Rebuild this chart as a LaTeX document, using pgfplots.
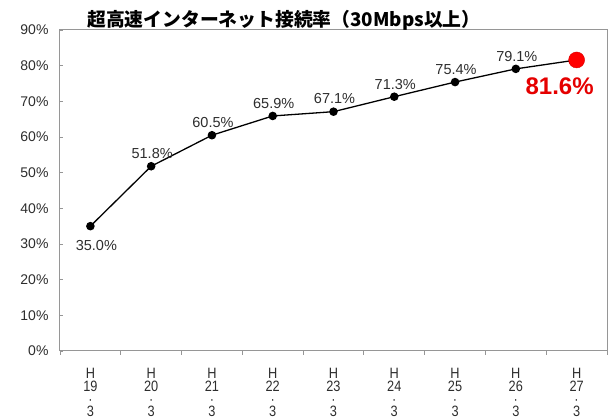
\documentclass[border=0pt]{standalone}
\usepackage{fontspec}
\setmainfont{Liberation Sans}
\newfontfamily\narrow{Liberation Sans}[FakeStretch=0.85]
\newfontfamily\cjk{Noto Sans CJK JP}
\usepackage{pgfplots}
\pgfplotsset{compat=1.18}
\definecolor{txt}{RGB}{45,45,45}
\definecolor{frame}{RGB}{150,150,150}
\begin{document}
\begin{tikzpicture}[x=1pt,y=1pt]
\begin{axis}[
  at={(0,0)}, anchor=south west,
  scale only axis, width=547pt, height=321pt,
  xmin=-0.5, xmax=8.5, ymin=0, ymax=90,
  ytick={0,10,...,90},
  yticklabel={\pgfmathprintnumber{\tick}\%},
  /pgf/number format/assume math mode=true,
  y tick label style={font=\fontsize{14}{16}\selectfont, text=txt, xshift=-8pt},
  ytick pos=left, xtick pos=bottom,
  tick align=inside,
  ytick style={draw=frame, line width=0.8pt},
  major tick length=3pt,
  xtick={0,...,8},
  xticklabels={{H\\19\\·\\3},{H\\20\\·\\3},{H\\21\\·\\3},{H\\22\\·\\3},{H\\23\\·\\3},{H\\24\\·\\3},{H\\25\\·\\3},{H\\26\\·\\3},{H\\27\\·\\3}},
  xticklabel style={align=center, font=\narrow\fontsize{15}{12.8}\selectfont, text=txt, anchor=north, yshift=-17pt, inner sep=0pt},
  major x tick style={draw=none},
  minor xtick={-0.5,0.5,...,8.5},
  minor x tick style={draw=frame, line width=0.8pt, yshift=-4pt},
  minor tick length=4pt,
  axis line style={draw=frame, line width=1pt},
  clip=false,
]
\addplot[black, line width=1.3pt, mark=*, mark size=3.6pt] coordinates {
  (0,35.0) (1,51.8) (2,60.5) (3,65.9) (4,67.1) (5,71.3) (6,75.4) (7,79.1) (8,81.6)
};
\addplot[draw=none, mark=none, nodes near coords={\pgfmathprintnumber[fixed,fixed zerofill,precision=1]{\pgfplotspointmeta}\%},
  point meta=y,
  nodes near coords style={font=\fontsize{14.5}{16}\selectfont, text=txt, anchor=south, yshift=4pt, xshift=1pt}]
  coordinates {(1,51.8) (2,60.5) (3,65.9) (4,67.1) (5,71.3) (6,75.4) (7,79.1)};
\addplot[draw=none, mark=none, nodes near coords={\pgfmathprintnumber[fixed,fixed zerofill,precision=1]{\pgfplotspointmeta}\%},
  point meta=y,
  nodes near coords style={font=\fontsize{14.5}{16}\selectfont, text=txt, anchor=north, yshift=-11pt, xshift=6pt}]
  coordinates {(0,35.0)};
\addplot[only marks, mark=*, mark size=8pt, color=red, mark options={fill=red, draw=red!85!black},
  nodes near coords={\pgfmathprintnumber[fixed,fixed zerofill,precision=1]{\pgfplotspointmeta}\%},
  point meta=y,
  nodes near coords style={font=\bfseries\fontsize{24}{26}\selectfont, text=red!90!black, anchor=north, yshift=-14pt, xshift=-17pt}]
  coordinates {(8,81.6)};
\end{axis}
\node[anchor=west, text=black, inner sep=0pt, font=\cjk\bfseries\fontsize{18.8}{20}\selectfont] at (27,331) {超高速インターネット接続率（30Mbps以上）};
\pgfresetboundingbox
\path (-60,-68) rectangle (548,351);
\end{tikzpicture}
\end{document}
